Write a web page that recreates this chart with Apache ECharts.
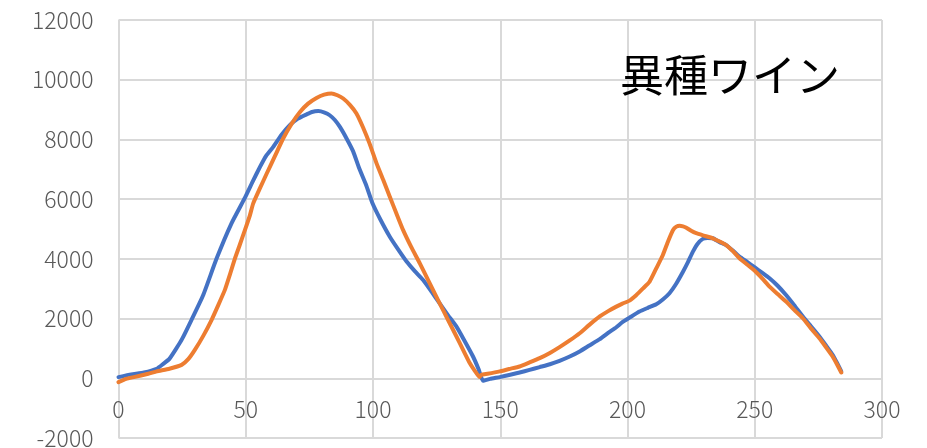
<!DOCTYPE html>
<html>
<head>
<meta charset="utf-8">
<script src="https://cdn.jsdelivr.net/npm/echarts@6/dist/echarts.min.js"></script>
<style>
html,body{margin:0;padding:0;background:#fff;}
#chart{width:927px;height:448px;}
</style>
</head>
<body>
<div id="chart"></div>
<script>
// Series 1 (blue)
const blueX = [0,5,10,15,17.6,20,22.8,25,28.7,33.3,38.5,44.4,49.7,52.9,55.6,58,60.8,64,67.3,70.5,73.9,76,78.5,81,83,85,87,89.5,92.2,94.5,97.4,99.8,103,106.6,110,113.2,116.5,119.7,123,126.2,129.5,132.8,136,139.3,141.5,143.2,146,149.8,153.5,157.6,161.5,165.5,169.5,173.3,177.3,181.2,185,189.1,192.4,195.6,198,200.8,204.7,208,211.3,214,216.5,219,221.8,223.8,225.7,227.5,229.6,231.5,233.5,236.2,238.8,241.5,244,247,249.9,253,255.8,259,262.3,265.5,268.9,272,275.4,278,280.6,282.3,284];
const blueY = [40,130,195,320,485,650,1010,1320,1960,2790,4000,5190,6050,6620,7080,7450,7750,8150,8480,8700,8840,8920,8950,8900,8810,8650,8420,8050,7600,7050,6450,5860,5300,4740,4300,3910,3580,3290,2900,2510,2110,1730,1250,730,300,-85,-20,40,110,195,280,375,470,585,730,900,1100,1310,1520,1710,1880,2030,2235,2360,2480,2650,2850,3150,3570,3900,4240,4500,4670,4700,4690,4560,4460,4270,4075,3900,3720,3530,3350,3100,2790,2450,2070,1750,1400,1100,790,520,230];
// Series 2 (orange)
const orangeX = [0,3,6,11.7,15,20,24.8,27.5,30,33.3,36.6,39.2,41.8,43.8,45.7,47.7,49.7,51.6,52.9,55.5,58.2,61.5,64.7,68,71.3,74.5,77.8,80.8,83.7,86,88.3,91,93.5,96.1,98.7,101.4,104,106.6,109.2,111.8,115,118.4,122.3,126.2,129.5,132.8,135.4,138,140,141.9,142.6,145,149.8,153.5,157.6,161.5,165.5,169.5,173.3,177.3,181.2,185,189.1,192.4,195.6,198,200.8,203.5,206,208.7,211.3,213.9,216,217.9,219.2,220.5,221.8,223.1,225,227,230,233.5,236.2,238.8,241.5,244,247,249.9,253,255.8,259,262.3,265.5,268.9,272,275.4,278,280.6,282.3,284];
const orangeY = [-130,-20,40,150,230,320,450,650,950,1420,1960,2450,2960,3480,4000,4480,4970,5450,5850,6350,6850,7450,8030,8520,8920,9200,9390,9500,9540,9480,9370,9150,8870,8400,7850,7200,6650,6080,5520,4970,4400,3850,3180,2510,1950,1400,950,510,250,40,117,150,230,310,395,530,675,850,1045,1270,1510,1790,2070,2250,2400,2500,2600,2790,3000,3240,3680,4130,4600,4970,5080,5110,5090,5045,4940,4860,4780,4690,4580,4460,4250,4020,3810,3610,3340,3070,2820,2570,2290,2010,1680,1340,1040,730,470,195];
const titleText = '異種ワイン';

const zip = (xs, ys) => xs.map((x, i) => [x, ys[i]]);
const chart = echarts.init(document.getElementById('chart'), null, {renderer: 'canvas'});
const labelStyle = {color: '#595959', fontSize: 23, fontWeight: 300, fontFamily: 'Noto Sans CJK JP', formatter: v => String(v)};
chart.setOption({
  animation: false,
  backgroundColor: '#ffffff',
  title: {
    text: titleText, left: 615, top: 48,
    textStyle: {fontSize: 44, fontWeight: 'normal', color: '#000', fontFamily: 'Noto Sans CJK JP'}
  },
  grid: {left: 118.5, right: 45, top: 20, bottom: 10, containLabel: false, outerBoundsMode: 'none'},
  xAxis: {
    type: 'value', min: 0, max: 300, interval: 50, position: 'bottom',
    axisLine: {show: false, onZero: false},
    axisTick: {show: false},
    axisLabel: Object.assign({margin: -40}, labelStyle),
    splitLine: {show: true, lineStyle: {color: '#d9d9d9', width: 2}}
  },
  yAxis: {
    type: 'value', min: -2000, max: 12000, interval: 2000,
    axisLine: {show: false},
    axisTick: {show: false},
    axisLabel: Object.assign({margin: 25}, labelStyle),
    splitLine: {show: true, lineStyle: {color: '#d9d9d9', width: 2}}
  },
  series: [
    {type: 'line', data: zip(blueX, blueY), showSymbol: false, smooth: 0.15,
     lineStyle: {color: '#4472C4', width: 4, cap: 'round', join: 'round'}, z: 3},
    {type: 'line', data: zip(orangeX, orangeY), showSymbol: false, smooth: 0.15,
     lineStyle: {color: '#ED7D31', width: 4, cap: 'round', join: 'round'}, z: 4}
  ]
});
</script>
</body>
</html>
